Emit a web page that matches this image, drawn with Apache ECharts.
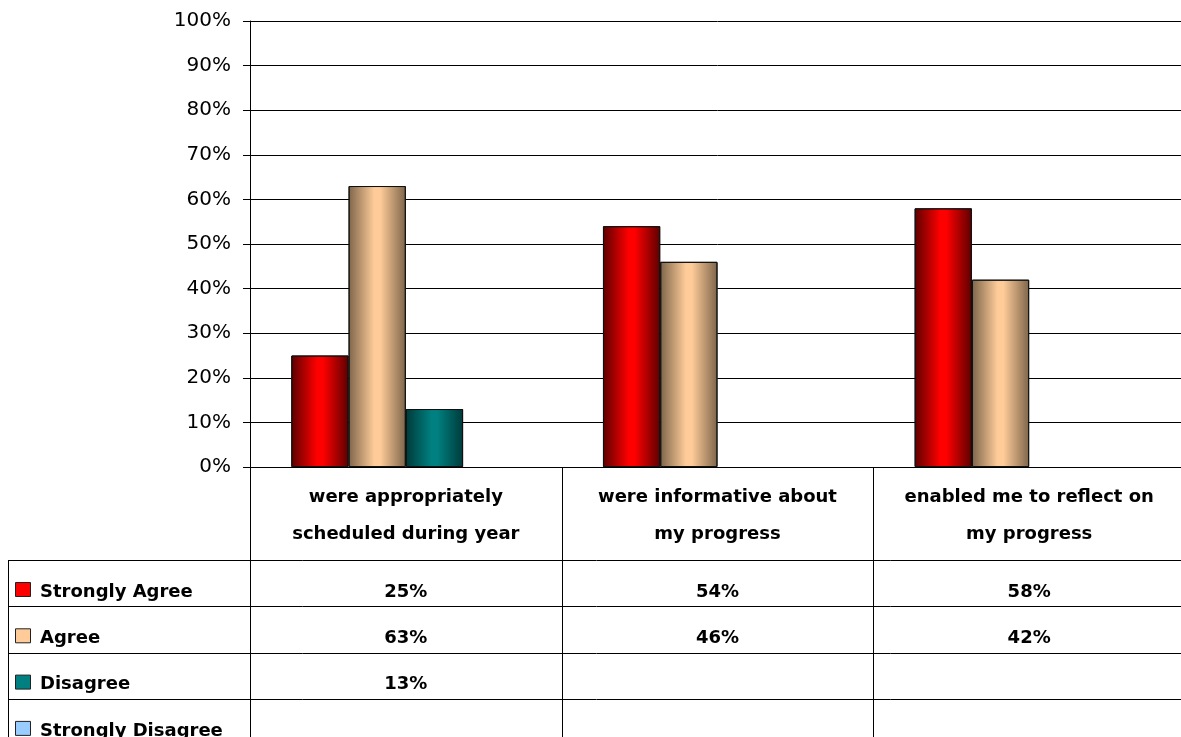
<!DOCTYPE html>
<html><head><meta charset="utf-8">
<script src="https://cdn.jsdelivr.net/npm/echarts@6/dist/echarts.min.js"></script>
<style>html,body{margin:0;padding:0;background:#fff;overflow:hidden}#chart{width:1190px;height:737px}</style>
</head><body><div id="chart"></div>
<script>
// Survey responses per statement (percent)
const categories = [
  'were appropriately\nscheduled during year',
  'were informative about\nmy progress',
  'enabled me to reflect on\nmy progress'
];
const seriesNames = ['Strongly Agree', 'Agree', 'Disagree', 'Strongly Disagree'];
const stronglyAgree = [25, 54, 58];
const agree = [63, 46, 42];
const disagree = [13, null, null];
const stronglyDisagree = [null, null, null];
const yTickStep = 10;

const seriesValues = [stronglyAgree, agree, disagree, stronglyDisagree];
// edge colour, centre colour for each series' cylinder-like shading
const palette = [
  ['#5c0000', '#ff0000'],
  ['#7d654a', '#ffcc99'],
  ['#003a3a', '#008080'],
  ['#5b7a99', '#99ccff']
];
const FONT = '"DejaVu Sans", sans-serif';

function shade(p) {
  return {
    type: 'linear', x: 0, y: 0, x2: 1, y2: 0,
    colorStops: [
      { offset: 0, color: p[0] },
      { offset: 0.45, color: p[1] },
      { offset: 0.55, color: p[1] },
      { offset: 1, color: p[0] }
    ]
  };
}

const chart = echarts.init(document.getElementById('chart'), null, { renderer: 'canvas' });

chart.setOption({
  animation: false,
  backgroundColor: '#fff',
  grid: { left: 250, width: 935, top: 21, height: 446, containLabel: false },
  xAxis: {
    type: 'category',
    data: categories,
    axisLine: { show: false },
    axisTick: { show: false },
    axisLabel: {
      show: true, interval: 0, margin: 12,
      fontFamily: FONT, fontWeight: 'bold', fontSize: 18, color: '#000',
      lineHeight: 37, align: 'center'
    },
    splitLine: { show: false }
  },
  yAxis: {
    type: 'value', min: 0, max: 100, interval: yTickStep,
    axisLine: { show: true, lineStyle: { color: '#000', width: 1 } },
    axisTick: { show: true, length: 7, lineStyle: { color: '#000' } },
    axisLabel: {
      formatter: '{value}%', fontFamily: FONT, fontSize: 20, color: '#000', margin: 19
    },
    splitLine: { show: true, lineStyle: { color: '#000', width: 1 } }
  },
  series: seriesNames.map((name, i) => ({
    name: name,
    type: 'bar',
    data: seriesValues[i],
    barGap: '0%',
    barCategoryGap: '26.5%',
    itemStyle: { color: shade(palette[i]), borderColor: '#111', borderWidth: 1 }
  }))
});

// Data table beneath the plot
function drawTable() {
  const centers = categories.map((c, i) => chart.convertToPixel({ xAxisIndex: 0 }, i));
  const step = centers[1] - centers[0];
  const bounds = [centers[0] - step / 2].concat(centers.map(c => c + step / 2));
  const y0 = chart.convertToPixel({ yAxisIndex: 0 }, 0);
  const headerBottom = 560;
  const rowH = 46.3;
  const tableLeft = 8;
  const right = bounds[bounds.length - 1];
  const bottom = 737;
  const els = [];
  const line = (x1, y1, x2, y2) => els.push({
    type: 'line', shape: { x1, y1, x2, y2 }, style: { stroke: '#000', lineWidth: 1 }, silent: true
  });
  // x axis line with tick extending left
  line(bounds[0] - 7, y0 + 0.5, right, y0 + 0.5);
  // vertical lines of the table
  bounds.forEach(b => line(Math.round(b) + 0.5, y0, Math.round(b) + 0.5, bottom));
  line(tableLeft + 0.5, headerBottom, tableLeft + 0.5, bottom);
  // row separators
  for (let r = 0; r < seriesNames.length; r++) {
    const y = Math.round(headerBottom + r * rowH) + 0.5;
    line(tableLeft, y, right, y);
  }
  seriesNames.forEach((name, r) => {
    const top = headerBottom + r * rowH;
    const cy = top + 32;
    els.push({
      type: 'rect', shape: { x: 15.5, y: cy - 9.5, width: 15, height: 14 },
      style: { fill: palette[r][1], stroke: '#222', lineWidth: 1 }, silent: true
    });
    els.push({
      type: 'text', x: 40, y: cy,
      style: { text: name, font: 'bold 18px ' + FONT, fill: '#000', align: 'left', verticalAlign: 'middle' },
      silent: true
    });
    seriesValues[r].forEach((v, c) => {
      if (v === null || v === undefined) return;
      els.push({
        type: 'text', x: centers[c], y: cy,
        style: { text: v + '%', font: 'bold 18px ' + FONT, fill: '#000', align: 'center', verticalAlign: 'middle' },
        silent: true
      });
    });
  });
  chart.setOption({ graphic: { elements: els } });
}
drawTable();
</script>
</body></html>
